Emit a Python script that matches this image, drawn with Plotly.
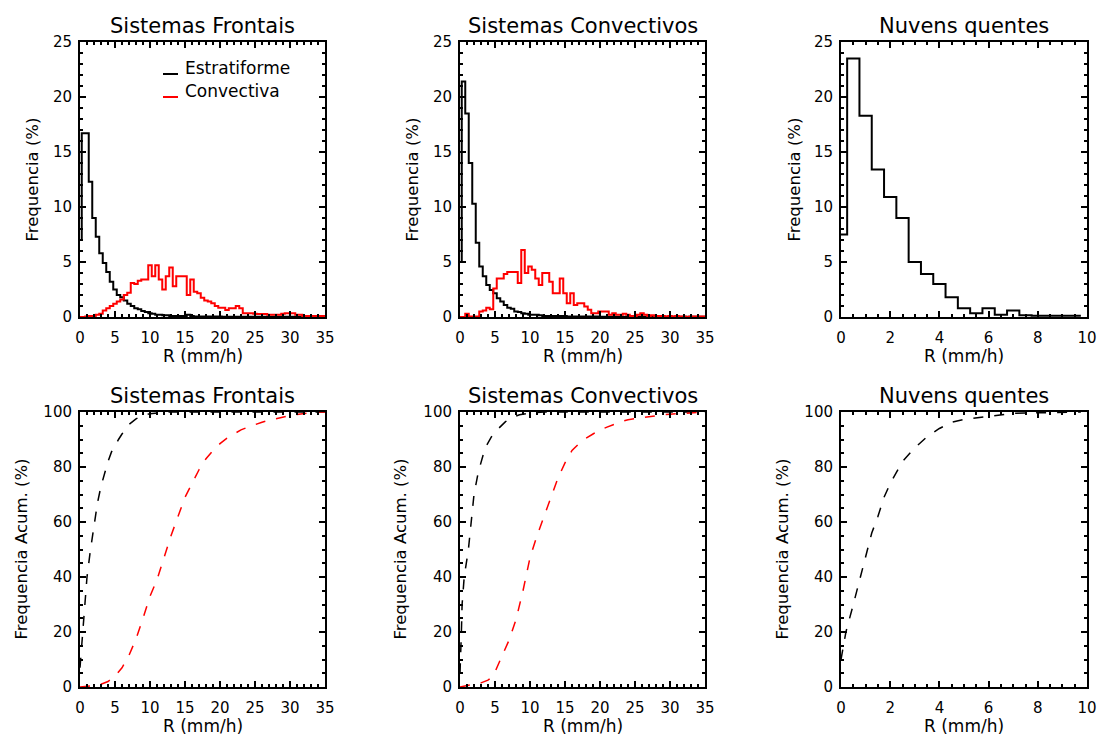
import numpy as np
import plotly.graph_objects as go

# ---------------- data ----------------
centers_35 = np.arange(0, 35.01, 0.5)
centers_10 = np.arange(0, 9.51, 0.5)
bin_width = 0.5

front_estrat = [7, 16.7, 16.7, 12.3, 9.0, 7.3, 5.8, 4.9, 4.1, 3.2,
                2.5, 2.0, 1.8, 1.5, 1.2, 1.0, 0.8, 0.7, 0.55, 0.45,
                0.35, 0.3, 0.2, 0.2, 0.15, 0.15, 0.1, 0.1, 0.1, 0.1,
                0.1, 0.2, 0.1, 0.05, 0.05, 0.05, 0.05, 0.05, 0.05, 0.05,
                0.05, 0.02, 0.02, 0.02, 0.02, 0.02, 0.02, 0.02, 0.02, 0.02,
                0.02, 0.02, 0.02, 0.02, 0.02, 0.02, 0.02, 0.02, 0.02, 0.02,
                0.02, 0.02, 0.02, 0.02, 0.02, 0.02, 0.02, 0.02, 0.02, 0.02,
                0.02]
front_conv = [0, 0, 0.05, 0.1, 0.1, 0.2, 0.3, 0.6, 0.8, 1.0,
              1.2, 1.4, 1.6, 2.0, 2.2, 3.1, 3.0, 3.3, 3.4, 3.4,
              4.7, 3.7, 4.7, 3.4, 2.5, 3.7, 4.5, 2.8, 3.7, 3.7,
              3.7, 2.0, 3.4, 2.3, 2.15, 1.75, 1.5, 1.4, 1.25, 1.0,
              0.85, 0.85, 0.64, 0.8, 0.8, 1.0, 0.8, 0.33, 0.33, 0.33,
              0.3, 0.27, 0.27, 0.27, 0.2, 0.2, 0.2, 0.2, 0.3, 0.33,
              0.33, 0.33, 0.2, 0.2, 0.0, 0.1, 0.1, 0.1, 0.1, 0.1,
              0.1]
conv_estrat = [5, 21.4, 18.5, 14.0, 10.3, 6.75, 4.6, 3.7, 2.9, 2.45,
               2.15, 1.7, 1.4, 1.1, 0.85, 0.75, 0.5, 0.45, 0.35, 0.3,
               0.2, 0.2, 0.2, 0.15, 0.1, 0.1, 0.1, 0.1, 0.1, 0.1,
               0.1, 0.05, 0.05, 0.05, 0.05, 0.05, 0.05, 0.05, 0.05, 0.05,
               0.02, 0.02, 0.02, 0.02, 0.02, 0.02, 0.02, 0.02, 0.02, 0.02,
               0.02, 0.02, 0.02, 0.02, 0.02, 0.02, 0.02, 0.02, 0.02, 0.02,
               0.02, 0.02, 0.02, 0.02, 0.02, 0.02, 0.02, 0.02, 0.02, 0.02,
               0.02]
conv_conv = [0, 0, 0.3, 0.05, 0.05, 0.05, 0.5, 0.6, 0.85, 0.7,
             2.6, 3.5, 3.5, 3.9, 4.1, 4.1, 4.1, 3.1, 6.1, 4.0,
             4.6, 4.3, 3.5, 2.9, 4.0, 4.0, 3.2, 2.15, 2.15, 3.5,
             2.15, 1.25, 2.15, 1.1, 1.25, 1.25, 0.95, 0.65, 0.35, 0.35,
             0.5, 0.5, 0.5, 0.2, 0.35, 0.2, 0.2, 0.3, 0.2, 0.1,
             0.1, 0.2, 0.35, 0.2, 0.1, 0.15, 0.1, 0.1, 0.1, 0.05,
             0.1, 0.05, 0.1, 0.05, 0.05, 0.0, 0.05, 0.05, 0.0, 0.05,
             0.05]
quentes = [7.5, 23.5, 18.3, 13.4, 10.9, 9.0, 5.0, 3.9, 3.0, 1.8,
           0.8, 0.35, 0.8, 0.2, 0.6, 0.15, 0.12, 0.12, 0.12, 0.12]

cdf_front_estrat_R = [0, 0.25, 0.5, 1.0, 1.5, 2.0, 2.5, 3.0, 3.5, 4.0, 4.5, 5.0, 5.5,
                      6.0, 6.5, 7.0, 8.0, 9.0, 10.0, 11.0, 12.0, 13.0, 35.0]
cdf_front_estrat = [7, 16, 24, 40, 50, 59, 67, 73, 78, 82, 85.5, 88, 90,
                    92, 94, 95.5, 97.5, 98.8, 99.4, 99.7, 99.9, 100, 100]
cdf_front_conv_R = [0, 1, 2, 3, 4, 5, 6, 7, 8, 9, 10, 11, 12, 13, 14, 15, 16, 17, 18,
                    19, 20, 21, 22, 23, 24, 25, 26, 27, 28, 29, 30, 31, 32, 33, 34, 35]
cdf_front_conv = [0, 0.2, 0.5, 1, 2, 4, 7, 11.5, 17.5, 25, 33, 39, 47, 55, 62, 69, 74, 79, 83,
                  86, 88.5, 90.5, 92, 93.5, 94.5, 95.5, 96.3, 97, 97.6, 98.2, 98.7, 99.1, 99.5,
                  99.8, 100, 100]
cdf_conv_estrat_R = [0, 0.1, 0.2, 0.3, 0.6, 1.2, 1.6, 2.0, 2.6, 3.0, 3.6, 4.5, 5.5, 6.5,
                     7.5, 8.5, 10, 12, 35]
cdf_conv_estrat = [5, 10, 20, 30, 40, 50, 60, 70, 78, 82, 87, 91, 94, 96.5,
                   98, 99, 99.6, 100, 100]
cdf_conv_conv_R = [0, 1, 2, 3, 4, 4.5, 5, 6, 7, 8, 9, 10, 11, 12, 13, 14, 15, 16, 17, 18,
                   19, 20, 21, 22, 23, 24, 25, 26, 27, 28, 29, 30, 31, 32, 33, 34, 35]
cdf_conv_conv = [0, 0.5, 1, 1.5, 2.5, 3.5, 5.5, 11, 17, 24.5, 35, 47, 55, 62, 69, 76, 81.5,
                 86, 88.5, 90.5, 92, 93.5, 94.5, 95.5, 96.5, 97.2, 97.6, 98, 98.3, 98.7, 99,
                 99.2, 99.4, 99.6, 99.8, 100, 100]
cdf_quentes_R = [0, 0.2, 0.5, 0.75, 1.0, 1.25, 1.5, 1.75, 2.0, 2.25, 2.5, 3.0, 3.5, 4.0,
                 4.5, 5.0, 5.5, 6.0, 6.5, 7.0, 8.0, 9.0, 9.75]
cdf_quentes = [10, 20, 30, 39, 48, 56, 62, 69, 74, 78, 82, 87, 91, 94,
               96.3, 97.3, 97.8, 98.5, 99, 99.5, 99.7, 100, 100]

titles = ["Sistemas Frontais", "Sistemas Convectivos", "Nuvens quentes"]
legend_labels = ["Estratiforme", "Convectiva"]
xlabel = "R (mm/h)"
ylabel_top = "Frequencia (%)"
ylabel_bot = "Frequencia Acum. (%)"

BLACK = "#000000"
RED = "#ff0000"
FONT = "DejaVu Sans"
W, H = 1100, 737


def hist_xy(centers, values, width):
    c = np.asarray(centers, float)
    v = np.asarray(values, float)
    x = np.append(c - width / 2, c[-1] + width / 2)
    y = np.append(v, v[-1])
    return x, y


fig = go.Figure()


def add_hist(centers, values, color, ax):
    x, y = hist_xy(centers, values, bin_width)
    fig.add_trace(go.Scatter(x=x, y=y, mode="lines", line=dict(color=color, width=2, shape="hv"),
                             xaxis="x" + ax, yaxis="y" + ax, showlegend=False))


def add_cdf(r, c, color, ax):
    fig.add_trace(go.Scatter(x=r, y=c, mode="lines", line=dict(color=color, width=1.5, dash="10px,11px"),
                             xaxis="x" + ax, yaxis="y" + ax, showlegend=False))


add_hist(centers_35, front_estrat, BLACK, "")
add_hist(centers_35, front_conv, RED, "")
add_hist(centers_35, conv_estrat, BLACK, "2")
add_hist(centers_35, conv_conv, RED, "2")
add_hist(centers_10, quentes, BLACK, "3")
add_cdf(cdf_front_estrat_R, cdf_front_estrat, BLACK, "4")
add_cdf(cdf_front_conv_R, cdf_front_conv, RED, "4")
add_cdf(cdf_conv_estrat_R, cdf_conv_estrat, BLACK, "5")
add_cdf(cdf_conv_conv_R, cdf_conv_conv, RED, "5")
add_cdf(cdf_quentes_R, cdf_quentes, BLACK, "6")

cols_px = [(80, 325), (460, 705), (841, 1087)]
rows_px = [(42, 317), (412, 687)]


def px_x(p):
    return p / W


def px_y(p):
    return 1 - p / H


def axis_style(**kw):
    d = dict(showline=True, linecolor=BLACK, linewidth=2, mirror="ticks", ticks="inside",
             ticklen=6, tickwidth=1.5, tickcolor=BLACK, showgrid=False, zeroline=False,
             tickfont=dict(family=FONT, size=15, color=BLACK), tick0=0)
    d.update(kw)
    return d


layout = dict(width=W, height=H, margin=dict(l=0, r=0, t=0, b=0, autoexpand=False),
              plot_bgcolor="white", paper_bgcolor="white", showlegend=False)

for i in range(6):
    r, c = divmod(i, 3)
    suffix = "" if i == 0 else str(i + 1)
    x0, x1 = cols_px[c]
    y0, y1 = rows_px[r]
    if c < 2:
        xr, xd, xm = [0, 35], 5, 1
    else:
        xr, xd, xm = [0, 10], 2, 0.5
    if r == 0:
        yr, yd, ym = [0, 25], 5, 1
    else:
        yr, yd, ym = [0, 100], 20, 5
    layout["xaxis" + suffix] = axis_style(
        domain=[px_x(x0), px_x(x1)], range=xr, dtick=xd, anchor="y" + suffix,
        ticklabelstandoff=6, automargin=False,
        minor=dict(ticks="inside", ticklen=3, tickwidth=1.5, tickcolor=BLACK, dtick=xm, tick0=0))
    layout["yaxis" + suffix] = axis_style(
        domain=[px_y(y1), px_y(y0)], range=yr, dtick=yd, anchor="x" + suffix,
        ticklabelstandoff=3, automargin=False,
        minor=dict(ticks="inside", ticklen=3, tickwidth=1.5, tickcolor=BLACK, dtick=ym, tick0=0))

fig.update_layout(**layout)

ann = []
ytitle_x = [[32, 412, 794], [21, 400, 782]]
for r in range(2):
    y0, y1 = rows_px[r]
    for c in range(3):
        x0, x1 = cols_px[c]
        ann.append(dict(text=titles[c], x=px_x((x0 + x1) / 2), y=px_y(y0 - 16), xref="paper", yref="paper",
                        xanchor="center", yanchor="middle", showarrow=False,
                        font=dict(family=FONT, size=21, color=BLACK)))
        ann.append(dict(text=xlabel, x=px_x((x0 + x1) / 2), y=px_y(y1 + 39), xref="paper", yref="paper",
                        xanchor="center", yanchor="middle", showarrow=False,
                        font=dict(family=FONT, size=17, color=BLACK)))
        ann.append(dict(text=ylabel_top if r == 0 else ylabel_bot, x=px_x(ytitle_x[r][c]),
                        y=px_y((y0 + y1) / 2), xref="paper", yref="paper", textangle=-90,
                        xanchor="center", yanchor="middle", showarrow=False,
                        font=dict(family=FONT, size=16.5, color=BLACK)))

leg_colors = [BLACK, RED]
leg_text_y = [68, 91]
shapes = []
for k in range(2):
    shapes.append(dict(type="line", xref="paper", yref="paper",
                       x0=px_x(163), x1=px_x(178), y0=px_y(leg_text_y[k] + 6), y1=px_y(leg_text_y[k] + 6),
                       line=dict(color=leg_colors[k], width=2)))
    ann.append(dict(text=legend_labels[k], x=px_x(183), y=px_y(leg_text_y[k]), xref="paper", yref="paper",
                    xanchor="left", yanchor="middle", showarrow=False,
                    font=dict(family=FONT, size=17, color=BLACK)))

fig.update_layout(annotations=ann, shapes=shapes)

post = "document.body.style.margin='0';document.body.style.overflow='hidden';"
fig.write_html("out.html", post_script=post, config={"displayModeBar": False})
